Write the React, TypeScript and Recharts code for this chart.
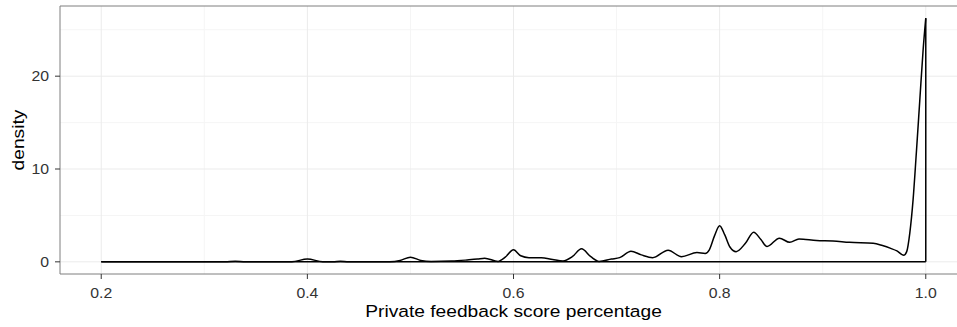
import React from 'react';
import {
  LineChart,
  Line,
  XAxis,
  YAxis,
  CartesianGrid,
  ReferenceLine,
  ReferenceArea,
  Label
} from 'recharts';

// density estimate of the private feedback score
const scoreGrid = [
  0.2, 0.3, 0.32, 0.33, 0.34, 0.385, 0.4, 0.415, 0.425, 0.432,
  0.44, 0.48, 0.49, 0.5, 0.51, 0.52, 0.54, 0.555, 0.565, 0.572,
  0.585, 0.592, 0.6, 0.607, 0.615, 0.627, 0.638, 0.648, 0.657, 0.666,
  0.675, 0.683, 0.695, 0.703, 0.714, 0.724, 0.735, 0.75, 0.763, 0.778,
  0.786, 0.79, 0.795, 0.8, 0.805, 0.81, 0.816, 0.825, 0.833, 0.84,
  0.846, 0.858, 0.868, 0.877, 0.894, 0.91, 0.926, 0.949, 0.958, 0.966,
  0.972, 0.9787, 0.9815, 0.9845, 0.9877, 0.991, 0.9942, 0.9974, 1.0,
];
const densityValues = [
  0, 0, 0, 0.06, 0, 0.02, 0.3, 0.02, 0.01, 0.06,
  0.01, 0.02, 0.15, 0.5, 0.15, 0.03, 0.08, 0.2, 0.3, 0.4,
  0.05, 0.5, 1.3, 0.65, 0.45, 0.45, 0.25, 0.1, 0.55, 1.4,
  0.55, 0.05, 0.3, 0.45, 1.15, 0.75, 0.45, 1.25, 0.55, 1.0,
  0.9, 1.3, 2.8, 3.9, 2.9, 1.6, 1.1, 2.0, 3.2, 2.4,
  1.65, 2.55, 2.1, 2.47, 2.3, 2.25, 2.1, 2.0, 1.75, 1.45,
  1.18, 0.72, 1.1, 3.1, 6.7, 12, 17.4, 22.8, 26.25,
];

const xTicks = [0.2, 0.4, 0.6, 0.8, 1.0];
const xMinor = [0.3, 0.5, 0.7, 0.9];
const yTicks = [0, 10, 20];
const yMinor = [5, 15, 25];
const xDomain = [0.16, 1.04];
const yDomain = [-1.31, 27.56];

const data = scoreGrid.map((x, i) => ({ x, density: densityValues[i] }));
const xStart = scoreGrid[0];
const xEnd = scoreGrid[scoreGrid.length - 1];
const yEnd = densityValues[densityValues.length - 1];

const FONT = '"Liberation Sans", Arial, Helvetica, sans-serif';
const STRETCH = 1.13;

const XTick = ({ x, y, payload }: any) => (
  <g transform={`translate(${x},${y})`}>
    <text transform={`scale(${STRETCH},1)`} textAnchor="middle" dy="0.71em" fontSize={14} fill="#333" fontFamily={FONT}>
      {Number(payload.value).toFixed(1)}
    </text>
  </g>
);

const YTick = ({ x, y, payload }: any) => (
  <g transform={`translate(${x},${y})`}>
    <text transform={`scale(${STRETCH},1)`} textAnchor="end" dy="0.355em" fontSize={14} fill="#333" fontFamily={FONT}>
      {payload.value}
    </text>
  </g>
);

const XTitle = (props: any) => {
  const vb = props.viewBox || { x: 60, y: 274, width: 907, height: 53 };
  return (
    <text
      transform={`translate(${vb.x + vb.width / 2},${vb.y + 43}) scale(${STRETCH},1)`}
      textAnchor="middle"
      fontSize={17}
      fill="#000"
      fontFamily={FONT}
    >
      Private feedback score percentage
    </text>
  );
};

const YTitle = (props: any) => {
  const vb = props.viewBox || { x: 0, y: 6, width: 60, height: 268 };
  return (
    <text
      transform={`translate(${vb.x + 24},${vb.y + vb.height / 2}) rotate(-90) scale(${STRETCH},1)`}
      textAnchor="middle"
      fontSize={17}
      fill="#000"
      fontFamily={FONT}
    >
      density
    </text>
  );
};

export default function App() {
  return (
    <div style={{ position: 'absolute', left: 0, top: 0, width: 957, height: 327, overflow: 'hidden', background: '#fff' }}>
      <LineChart width={980} height={327} data={data} margin={{ top: 6, right: 13, bottom: 0, left: 0 }}>
        <CartesianGrid stroke="#f5f5f5" horizontalValues={yMinor} verticalValues={xMinor} />
        <CartesianGrid stroke="#ebebeb" horizontalValues={yTicks} verticalValues={xTicks} />
        <XAxis
          dataKey="x"
          type="number"
          domain={xDomain}
          ticks={xTicks}
          allowDataOverflow
          axisLine={false}
          tickLine={{ stroke: '#333' }}
          tickSize={5}
          tickMargin={9}
          height={53}
          tick={<XTick />}
        >
          <Label content={<XTitle />} />
        </XAxis>
        <YAxis
          type="number"
          domain={yDomain}
          ticks={yTicks}
          allowDataOverflow
          axisLine={false}
          tickLine={{ stroke: '#333' }}
          tickSize={5}
          tickMargin={6}
          width={60}
          tick={<YTick />}
        >
          <Label content={<YTitle />} />
        </YAxis>
        <ReferenceArea x1={xDomain[0]} x2={xDomain[1]} y1={yDomain[0]} y2={yDomain[1]} stroke="#7f7f7f" fill="none" />
        <ReferenceLine segment={[{ x: xStart, y: 0 }, { x: xEnd, y: 0 }]} stroke="#000" strokeWidth={1.5} />
        <ReferenceLine segment={[{ x: xEnd, y: 0 }, { x: xEnd, y: yEnd }]} stroke="#000" strokeWidth={1.5} />
        <Line
          type="monotone"
          dataKey="density"
          stroke="#000"
          strokeWidth={1.5}
          dot={false}
          activeDot={false}
          isAnimationActive={false}
        />
      </LineChart>
    </div>
  );
}
